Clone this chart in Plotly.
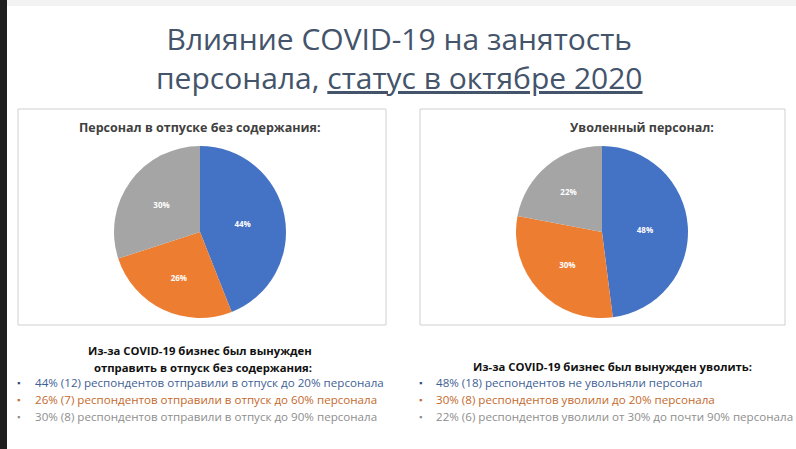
import plotly.graph_objects as go

# Data
furlough_labels = ["до 20% персонала", "до 60% персонала", "до 90% персонала"]
furlough_values = [44, 26, 30]
fired_labels = ["не увольняли", "до 20% персонала", "от 30% до почти 90%"]
fired_values = [48, 30, 22]
colors = ["#4472C4", "#ED7D31", "#A5A5A5"]

title_text = "Влияние COVID-19 на занятость<br>персонала, <u>статус в октябре 2020</u>"
left_chart_title = "Персонал в отпуске без содержания:"
right_chart_title = "Уволенный персонал:"
left_heading = ["Из-за COVID-19 бизнес был вынужден", "отправить в отпуск без содержания:"]
right_heading = "Из-за COVID-19 бизнес был вынужден уволить:"
left_bullets = [
    "44% (12) респондентов отправили в отпуск до 20% персонала",
    "26% (7) респондентов отправили в отпуск до 60% персонала",
    "30% (8) респондентов отправили в отпуск до 90% персонала",
]
right_bullets = [
    "48% (18) респондентов не увольняли персонал",
    "30% (8) респондентов уволили до 20% персонала",
    "22% (6) респондентов уволили от 30% до почти 90% персонала",
]
text_colors = ["#3F5F95", "#C4692C", "#8E8E8E"]
bullet_colors = ["#2F4C7E", "#C4692C", "#8E8E8E"]

W, H = 796, 449
FONT = "Open Sans"


def px(x):
    return x / W


def py(y):
    return 1 - y / H


fig = go.Figure()

fig.add_trace(go.Pie(
    labels=furlough_labels, values=furlough_values, sort=False, direction="clockwise",
    rotation=0, marker=dict(colors=colors, line=dict(width=0)),
    textinfo="percent", texttemplate="<b>%{value}%</b>", textposition="inside",
    insidetextfont=dict(color="white", size=8, family=FONT),
    domain=dict(x=[px(114), px(286)], y=[py(318), py(146)]),
    showlegend=False, hoverinfo="label+percent",
))
fig.add_trace(go.Pie(
    labels=fired_labels, values=fired_values, sort=False, direction="clockwise",
    rotation=0, marker=dict(colors=colors, line=dict(width=0)),
    textinfo="percent", texttemplate="<b>%{value}%</b>", textposition="inside",
    insidetextfont=dict(color="white", size=8, family=FONT),
    domain=dict(x=[px(516), px(688)], y=[py(318), py(146)]),
    showlegend=False, hoverinfo="label+percent",
))

shapes = [
    dict(type="rect", xref="paper", yref="paper", x0=0, x1=px(7), y0=0, y1=1,
         fillcolor="#1E1E1E", line=dict(width=0), layer="below"),
    dict(type="rect", xref="paper", yref="paper", x0=px(7), x1=1, y0=py(6), y1=1,
         fillcolor="#F2F2F2", line=dict(width=0), layer="below"),
    dict(type="rect", xref="paper", yref="paper", x0=px(18), x1=px(386), y0=py(325), y1=py(109),
         fillcolor="white", line=dict(color="#D0D0D0", width=1), layer="below"),
    dict(type="rect", xref="paper", yref="paper", x0=px(420), x1=px(785), y0=py(325), y1=py(109),
         fillcolor="white", line=dict(color="#D0D0D0", width=1), layer="below"),
]

ann = []


def add_text(x, y, text, size, color, xanchor="center", bold=False, family=FONT):
    ann.append(dict(xref="paper", yref="paper", x=px(x), y=py(y), text=(f"<b>{text}</b>" if bold else text),
                    showarrow=False, xanchor=xanchor, yanchor="middle",
                    font=dict(size=size, color=color, family=family)))


add_text(400, 58, title_text, 30, "#44546A")
add_text(200, 127, left_chart_title, 12.5, "#404040", bold=True)
add_text(642, 127, right_chart_title, 12.5, "#404040", bold=True)
add_text(200, 350, left_heading[0], 11.3, "#111111", bold=True)
add_text(203, 367, left_heading[1], 11.3, "#111111", bold=True)
add_text(612, 366, right_heading, 11.3, "#111111", bold=True)

for i, t in enumerate(left_bullets):
    y = 382 + i * 17
    add_text(15, y, "▪", 9, bullet_colors[i], xanchor="left")
    add_text(33, y, t, 11.6, text_colors[i], xanchor="left")
for i, t in enumerate(right_bullets):
    y = 382 + i * 17
    add_text(417, y, "▪", 9, bullet_colors[i], xanchor="left")
    add_text(434, y, t, 11.6, text_colors[i], xanchor="left")

fig.update_layout(
    width=W, height=H, margin=dict(l=0, r=0, t=0, b=0),
    paper_bgcolor="white", plot_bgcolor="white",
    shapes=shapes, annotations=ann, showlegend=False,
)

fig.write_html("out.html", config={"displayModeBar": False},
               post_script="document.body.style.margin='0';document.body.style.overflow='hidden';")
